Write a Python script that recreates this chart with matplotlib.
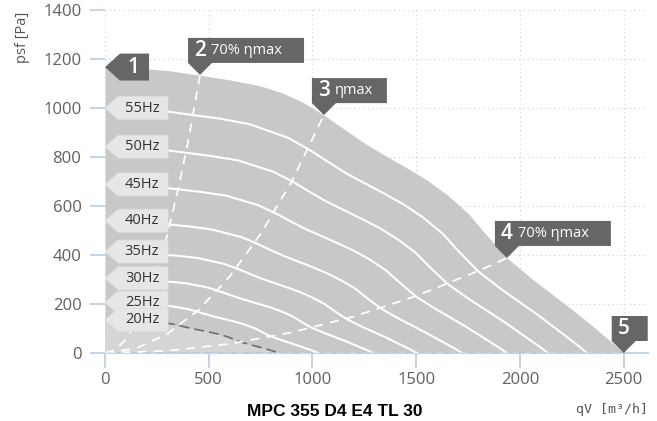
import numpy as np
import matplotlib.pyplot as plt
import matplotlib.transforms as mtransforms
from matplotlib.patches import Polygon

plt.rcParams['font.family'] = ['Open Sans', 'DejaVu Sans']

# outer limit curve (points 1 -> 5)
qv_max = [0, 150, 300, 450, 600, 750, 850, 950, 1055, 1150, 1250, 1350, 1450, 1550,
          1650, 1750, 1840, 1937, 2050, 2150, 2250, 2350, 2450, 2500]
p_max = [1167, 1163, 1153, 1135, 1115, 1090, 1063, 1025, 971, 915, 857, 806, 758, 707,
         645, 570, 480, 388, 308, 243, 178, 110, 38, 0]

# speed curves
hz_labels = ['55Hz', '50Hz', '45Hz', '40Hz', '35Hz', '30Hz', '25Hz', '20Hz']
qv_55 = [0, 279, 557, 697, 883, 980, 1068, 1161, 1347, 1440, 1533, 1626, 1709, 1799, 1904, 2090, 2276, 2323]
p_55 = [1000, 988, 956, 934, 878, 832, 784, 734, 650, 606, 553, 488, 411, 333, 264, 153, 33, 0]
qv_50 = [0, 256, 512, 641, 811, 901, 982, 1068, 1238, 1324, 1409, 1495, 1571, 1654, 1751, 1922, 2092, 2135]
p_50 = [842, 832, 804, 786, 740, 701, 660, 618, 547, 510, 465, 411, 346, 280, 222, 128, 27, 0]
qv_45 = [0, 233, 465, 581, 736, 818, 891, 969, 1124, 1201, 1279, 1356, 1426, 1501, 1589, 1744, 1899, 1937]
p_45 = [688, 680, 657, 643, 604, 572, 539, 505, 447, 417, 380, 336, 283, 229, 182, 105, 22, 0]
qv_40 = [0, 206, 413, 516, 654, 726, 791, 860, 998, 1066, 1135, 1204, 1266, 1333, 1410, 1548, 1686, 1720]
p_40 = [540, 533, 516, 504, 474, 449, 423, 397, 351, 327, 298, 264, 222, 180, 143, 82, 18, 0]
qv_35 = [0, 181, 361, 452, 572, 635, 692, 753, 873, 933, 993, 1054, 1108, 1166, 1234, 1355, 1475, 1504]
p_35 = [414, 409, 396, 387, 364, 345, 325, 304, 269, 251, 229, 202, 170, 138, 109, 63, 13, 0]
qv_30 = [0, 155, 310, 388, 491, 545, 595, 646, 750, 801, 853, 905, 951, 1001, 1060, 1163, 1267, 1292]
p_30 = [305, 301, 291, 285, 268, 254, 239, 224, 198, 185, 169, 149, 125, 101, 81, 47, 10, 0]
qv_25 = [0, 124, 247, 309, 391, 435, 474, 515, 597, 639, 680, 721, 758, 798, 845, 927, 1009, 1030]
p_25 = [206, 204, 197, 192, 181, 171, 161, 151, 134, 125, 114, 101, 85, 68, 54, 31, 7, 0]
qv_20 = [0, 101, 202, 253, 320, 356, 388, 421, 489, 522, 556, 590, 620, 653, 691, 758, 826, 843]
p_20 = [135, 133, 129, 126, 119, 112, 106, 99, 88, 82, 75, 66, 56, 45, 36, 21, 4, 0]

# efficiency lines
qv_eta70_left = [0, 50, 100, 150, 200, 250, 300, 350, 400, 458]
p_eta70_left = [0, 13, 55, 120, 215, 335, 480, 660, 860, 1135]
qv_eta_max = [0, 150, 300, 450, 600, 750, 900, 1055]
p_eta_max = [0, 19, 78, 175, 311, 486, 700, 971]
qv_eta70_right = [0, 300, 600, 900, 1200, 1500, 1800, 1937]
p_eta70_right = [0, 9, 37, 84, 149, 233, 335, 388]

# operating point markers
mark_nums = ['1', '2', '3', '4', '5']
mark_texts = ['', '70% ηmax', 'ηmax', '70% ηmax', '']
mark_qv = [0, 458, 1055, 1937, 2500]
mark_p = [1167, 1135, 971, 388, 0]

fig = plt.figure(figsize=(6.57, 4.21), dpi=100)
ax = fig.add_axes([105 / 657, 68 / 421, 543 / 657, 343 / 421])
ax.set_xlim(0, 2617)
ax.set_ylim(0, 1400)

ax.grid(True, color='#cfcfcf', linestyle=(0, (1, 3)), linewidth=0.8)
ax.set_axisbelow(True)

ax.fill_between(qv_max, p_max, 0, color='#c8c8c8', linewidth=0, zorder=2)
ax.fill_between(qv_20, p_20, 0, color='#d5d5d5', linewidth=0, zorder=2)

curves = [(qv_55, p_55), (qv_50, p_50), (qv_45, p_45), (qv_40, p_40),
          (qv_35, p_35), (qv_30, p_30), (qv_25, p_25)]
for q, p in curves:
    ax.plot(q, p, color='white', linewidth=1.5, zorder=3, solid_joinstyle='round')
ax.plot(qv_20, p_20, color='#6e6e6e', linewidth=1.2, dashes=(6, 3), zorder=3)

for q, p in [(qv_eta70_left, p_eta70_left), (qv_eta_max, p_eta_max),
             (qv_eta70_right, p_eta70_right)]:
    ax.plot(q, p, color='white', linewidth=1.3, dashes=(5, 4), zorder=4)

ax.plot([0, 2500], [0, 0], color='#8a8a8a', linewidth=1, dashes=(5, 4), zorder=4)


def anchored(x, y):
    return fig.dpi_scale_trans + mtransforms.ScaledTranslation(x, y, ax.transData)


# frequency labels at curve starts
starts = [p_55[0], p_50[0], p_45[0], p_40[0], p_35[0], p_30[0], p_25[0], p_20[0]]
for lab, y0 in zip(hz_labels, starts):
    tr = anchored(0, y0)
    verts = np.array([(0, 0), (13, 11.5), (63, 11.5), (63, -11.5), (13, -11.5)]) / 100
    ax.add_patch(Polygon(verts, closed=True, transform=tr, facecolor='#e6e6e6',
                         edgecolor='#dcdcdc', linewidth=0.6, zorder=5, clip_on=False))
    ax.text(0.37, 0, lab, transform=tr, ha='center', va='center', fontsize=10.5,
            color='#333333', zorder=6)

# numbered callouts
widths = [44, 116, 75, 116, 36]
for num, txt, x, y, w in zip(mark_nums, mark_texts, mark_qv, mark_p, widths):
    tr = anchored(x, y)
    if num == '1':
        verts = np.array([(0, 0), (15, 13.5), (w, 13.5), (w, -13.5), (15, -13.5)]) / 100
        tx, ty = 0.28, 0
    else:
        verts = np.array([(0, 0), (-12, 12), (-12, 37), (w - 12, 37), (w - 12, 12), (12, 12)]) / 100
        tx, ty = 0.0, 0.245
    ax.add_patch(Polygon(verts, closed=True, transform=tr, facecolor='#666666',
                         edgecolor='none', zorder=7, clip_on=False))
    ax.text(tx, ty, num, transform=tr, ha='center', va='center', fontsize=15,
            fontweight='semibold', color='white', zorder=8)
    if txt:
        ax.text(tx + 0.11, ty, txt, transform=tr, ha='left', va='center',
                fontsize=10.5, color='white', zorder=8)

for s in ['top', 'right', 'left']:
    ax.spines[s].set_visible(False)
ax.spines['bottom'].set_color('#c5d5e5')
ax.spines['bottom'].set_linewidth(1.5)

ax.set_xticks([0, 500, 1000, 1500, 2000, 2500])
ax.set_yticks([0, 200, 400, 600, 800, 1000, 1200, 1400])
ax.tick_params(axis='both', colors='#c5d5e5', labelcolor='#606060', labelsize=12,
               length=11, width=1.5)
ax.tick_params(axis='y', pad=6)
ax.tick_params(axis='x', pad=3)

fig.text(22 / 657, 1 - 37 / 421, 'psf [Pa]', rotation=90, ha='center', va='center',
         fontsize=10.5, color='#555555')
fig.text(648 / 657, 1 - 410 / 421, 'qV [m³/h]', ha='right', va='center',
         fontsize=9.5, color='#555555', family=['DejaVu Sans Mono'])
fig.text(335 / 657, 1 - 404 / 421, 'MPC 355 D4 E4 TL 30', ha='center', va='top',
         fontsize=12.5, fontweight='bold', color='black', family=['Liberation Sans'])

fig.savefig('out.png', dpi=100)
